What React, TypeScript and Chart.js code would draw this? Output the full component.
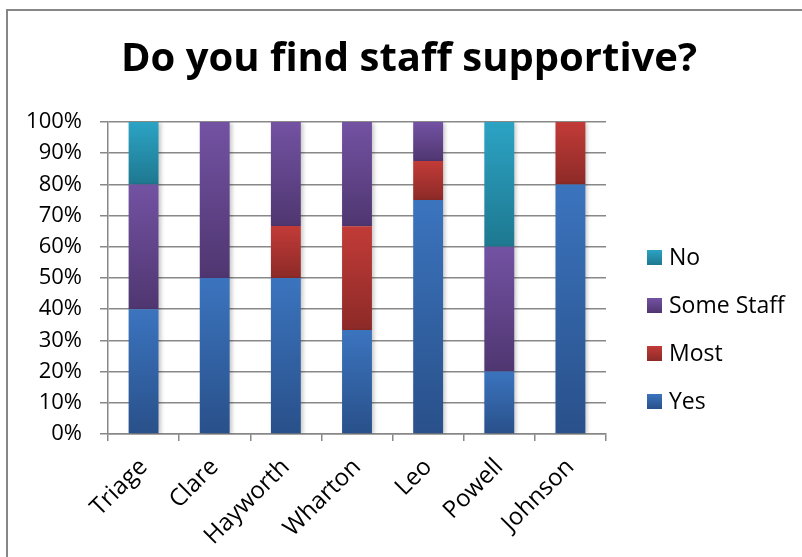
import React, { useEffect, useRef } from "react";
import { Chart, registerables } from "chart.js";

Chart.register(...registerables);

const categories = ["Triage", "Clare", "Hayworth", "Wharton", "Leo", "Powell", "Johnson"];
const yesValues = [40, 50, 50, 33.3, 75, 20, 80];
const mostValues = [0, 0, 16.7, 33.3, 12.5, 0, 20];
const someStaffValues = [40, 50, 33.3, 33.4, 12.5, 40, 0];
const noValues = [20, 0, 0, 0, 0, 40, 0];
const yTickValues = [0, 10, 20, 30, 40, 50, 60, 70, 80, 90, 100];

const seriesNames = ["Yes", "Most", "Some Staff", "No"];
const seriesData = [yesValues, mostValues, someStaffValues, noValues];
const seriesTop = ["#3b74be", "#c23b38", "#7352a3", "#2ca3c4"];
const seriesBottom = ["#29508a", "#8c2a27", "#4f3670", "#1e7890"];

const FONT = "'Open Sans', 'Liberation Sans', sans-serif";

function segmentGradient(ctx: any) {
  const chart = ctx.chart;
  const di = ctx.datasetIndex;
  const i = ctx.dataIndex;
  if (!chart.chartArea || i === undefined || !chart.scales || !chart.scales.y) return seriesTop[di];
  let start = 0;
  for (let k = 0; k < di; k++) start += seriesData[k][i] || 0;
  const end = start + (seriesData[di][i] || 0);
  const y0 = chart.scales.y.getPixelForValue(start);
  const y1 = chart.scales.y.getPixelForValue(end);
  if (!isFinite(y0) || !isFinite(y1) || Math.abs(y0 - y1) < 0.5) return seriesTop[di];
  const g = chart.ctx.createLinearGradient(0, y1, 0, y0);
  g.addColorStop(0, seriesTop[di]);
  g.addColorStop(1, seriesBottom[di]);
  return g;
}

const shadowPlugin = {
  id: "barShadow",
  beforeDatasetsDraw(chart: any) {
    const c = chart.ctx;
    c.save();
    c.shadowColor = "rgba(0,0,0,0.22)";
    c.shadowBlur = 4;
    c.shadowOffsetX = 2;
    c.shadowOffsetY = 1;
  },
  afterDatasetsDraw(chart: any) {
    chart.ctx.restore();
  },
};

const legendPlugin = {
  id: "customLegend",
  afterDraw(chart: any) {
    const c = chart.ctx;
    const order = [3, 2, 1, 0];
    const ys = [257, 305, 353, 401];
    c.save();
    c.font = `23px ${FONT}`;
    c.textBaseline = "middle";
    c.textAlign = "left";
    order.forEach((di, j) => {
      const y = ys[j];
      const g = c.createLinearGradient(0, y - 7, 0, y + 8);
      g.addColorStop(0, seriesTop[di]);
      g.addColorStop(1, seriesBottom[di]);
      c.fillStyle = g;
      c.fillRect(647, y - 7, 15, 15);
      c.fillStyle = "#000";
      c.fillText(seriesNames[di], 669, y + 1);
    });
    c.restore();
  },
};

export default function App() {
  const ref = useRef<HTMLCanvasElement | null>(null);
  useEffect(() => {
    if (!ref.current) return;
    const chart = new Chart(ref.current, {
      type: "bar",
      data: {
        labels: categories,
        datasets: seriesData.map((d, di) => ({
          label: seriesNames[di],
          data: d,
          backgroundColor: segmentGradient,
          borderWidth: 0,
          categoryPercentage: 1,
          barPercentage: 0.42,
        })),
      },
      options: {
        animation: false,
        responsive: false,
        maintainAspectRatio: false,
        layout: { padding: { left: 16, right: 0, top: 0, bottom: 0 } },
        plugins: {
          legend: { display: false },
          tooltip: { enabled: false },
          title: {
            display: true,
            text: "Do you find staff supportive?",
            color: "#000",
            font: { family: FONT, size: 40, weight: "bold", lineHeight: 1.2 },
            padding: { top: 36, bottom: 38 },
          },
        },
        scales: {
          x: {
            stacked: true,
            grid: {
              display: true,
              offset: true,
              drawOnChartArea: false,
              drawTicks: true,
              tickLength: 7,
              color: "#888888",
              lineWidth: 1.5,
            },
            border: { display: true, color: "#888888", width: 1.5 },
            ticks: {
              minRotation: 45,
              maxRotation: 45,
              autoSkip: false,
              color: "#000",
              padding: 12,
              font: { family: FONT, size: 24 },
            },
            afterFit(scale: any) {
              scale.height = 123;
            },
          },
          y: {
            stacked: true,
            min: 0,
            max: 100,
            afterBuildTicks(scale: any) {
              scale.ticks = yTickValues.map((v) => ({ value: v }));
            },
            grid: {
              color: "#888888",
              lineWidth: 1.5,
              tickLength: 8,
            },
            border: { display: true, color: "#888888", width: 1.5 },
            ticks: {
              color: "#000",
              padding: 18,
              font: { family: FONT, size: 22 },
              callback: (v: any) => v + "%",
            },
            afterFit(scale: any) {
              scale.width = 92;
            },
          },
          legendSpace: {
            type: "linear",
            position: "right",
            display: true,
            grid: { display: false },
            border: { display: false },
            ticks: { display: false },
            afterFit(scale: any) {
              scale.width = 196;
            },
          },
        },
      },
      plugins: [shadowPlugin, legendPlugin],
    } as any);
    return () => chart.destroy();
  }, []);
  return (
    <div style={{ position: "fixed", left: 0, top: 0, width: 802, height: 557, background: "#fff", overflow: "hidden" }}>
      <div
        style={{
          position: "absolute",
          left: 6,
          top: 9,
          width: 900,
          height: 700,
          borderLeft: "2px solid #878787",
          borderTop: "2px solid #878787",
        }}
      />
      <canvas ref={ref} width={802} height={557} style={{ position: "absolute", left: 0, top: 0, width: 802, height: 557 }} />
    </div>
  );
}
